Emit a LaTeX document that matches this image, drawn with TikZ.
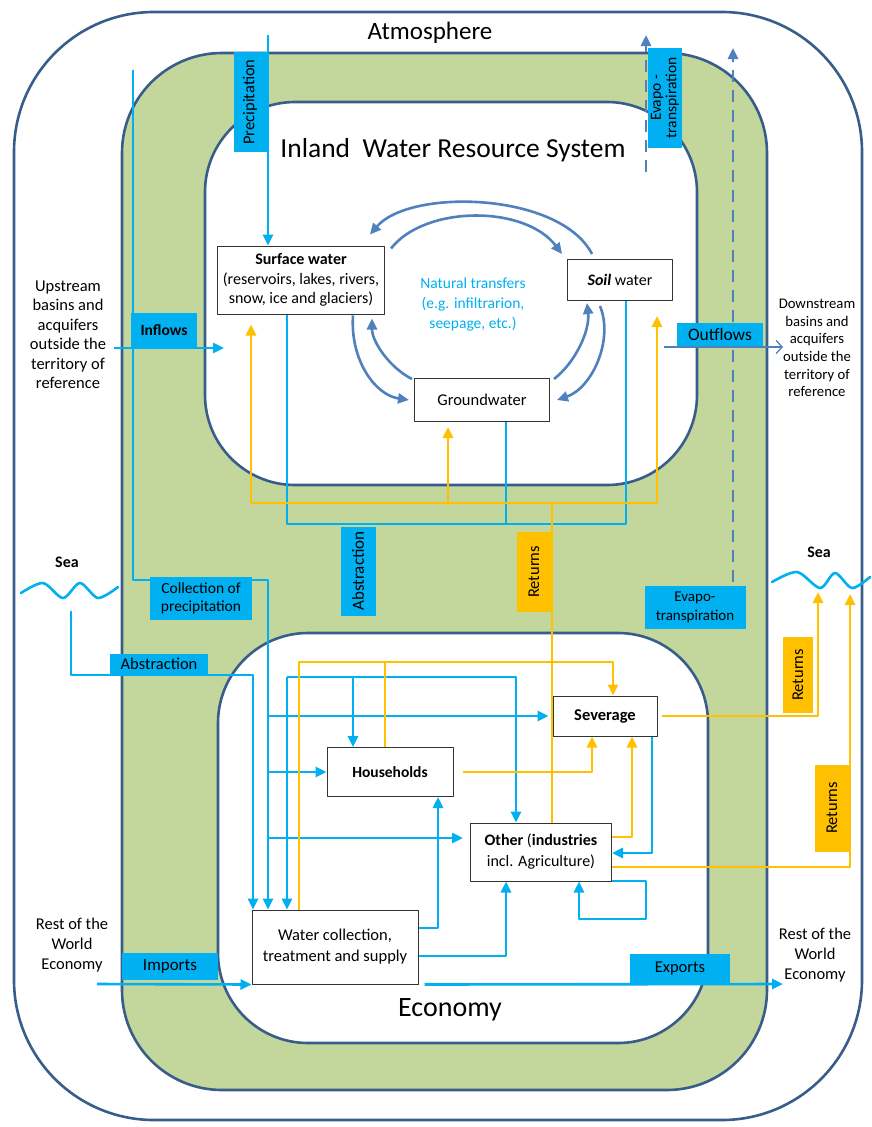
\documentclass[tikz,border=0pt]{standalone}
\usepackage{fontspec}
\setmainfont{Carlito}
\usetikzlibrary{arrows.meta,calc}
\definecolor{frameline}{HTML}{385D8A}
\definecolor{band}{HTML}{C3D69B}
\definecolor{water}{HTML}{00B0F0}
\definecolor{retcol}{HTML}{FFC000}
\definecolor{nature}{HTML}{4F81BD}

\begin{document}
\begin{tikzpicture}[x=1pt,y=-1pt,font=\fontsize{16}{19}\selectfont,>={Triangle[length=11pt,width=10pt]},
    line join=round,
    frame/.style={draw=frameline,line width=2.6pt},
    box/.style={draw=black!80,fill=white,line width=1pt,align=center,inner sep=0pt},
    tag/.style={fill=water,align=center,inner sep=0pt},
    rtag/.style={fill=retcol,align=center,inner sep=0pt,rotate=90},
    wline/.style={draw=water,line width=2.6pt},
    rline/.style={draw=retcol,line width=2.6pt},
    nline/.style={draw=nature,line width=2.6pt,->},
    side/.style={align=center,font=\fontsize{16.5}{19.5}\selectfont}]
  \useasboundingbox (0,0) rectangle (871,1127);
  % the nested systems
  \draw[frame,rounded corners=140pt] (14,12) rectangle (862,1120);
  \draw[frame,fill=band,rounded corners=100pt] (122,53) rectangle (767,1090);
  \draw[frame,fill=white,rounded corners=90pt] (205,102) rectangle (697,485);
  \draw[frame,fill=white,rounded corners=90pt] (218,633) rectangle (708,1043);
  \node at (430,33) {\fontsize{25}{30}\selectfont Atmosphere};
  \node at (453,150) {\fontsize{27.5}{30}\selectfont Inland\ \ Water Resource System};
  \node at (450,1010) {\fontsize{28}{32}\selectfont Economy};

  % stocks and industries
  \node[box,minimum width=167pt,minimum height=68pt,font=\fontsize{16}{19.5}\selectfont] (sw) at (301,280)
    {\textbf{Surface water}\\(reservoirs, lakes, rivers,\\snow, ice and glaciers)};
  \node[box,minimum width=105pt,minimum height=41pt] (soil) at (620,280) {\textbf{\textit{Soil}} water};
  \node[box,minimum width=135pt,minimum height=43pt,font=\fontsize{16.5}{19}\selectfont] (gw) at (482,400) {Groundwater};
  \node[box,minimum width=126pt,minimum height=49pt,font=\fontsize{15.5}{19}\selectfont] (hh) at (390,772) {\textbf{Households}};
  \node[box,minimum width=104pt,minimum height=40pt,font=\fontsize{16.5}{19}\selectfont] (sev) at (605,716) {\textbf{Severage}};
  \node[box,minimum width=141pt,minimum height=58pt,font=\fontsize{16}{21}\selectfont] (oth) at (541,852)
    {\textbf{Other} (\textbf{industries}\\incl. Agriculture)};
  \node[box,minimum width=166pt,minimum height=74pt,font=\fontsize{16.5}{21}\selectfont] (wcs) at (335,947)
    {Water collection,\\treatment and supply};
  \node[text=water,align=center,font=\fontsize{15.5}{20}\selectfont] (nat) at (473,304)
    {Natural transfers\\(e.g. infiltrarion,\\seepage, etc.)};

  % natural transfers
  \draw[nline] ($(soil.north)+(-28,-5)$) .. controls (560,192) and (410,188) .. ($(sw.north east)+(-15,-11)$);
  \draw[nline] ($(sw.north east)+(6,3)$) .. controls (425,205) and (525,205) .. ($(soil.north west)+(-5,-5)$);
  \draw[nline] ($(sw.south east)+(-32,1)$) .. controls (350,360) and (375,395) .. ($(gw.west)+(-5,0)$);
  \draw[nline] ($(gw.north west)+(-2,1)$) .. controls (390,368) and (372,342) .. ($(sw.south east)+(-13,4)$);
  \draw[nline] ($(gw.north east)+(4,1)$) .. controls (576,362) and (590,330) .. ($(soil.south)+(-33,2)$);
  \draw[nline] ($(soil.south)+(-20,5)$) .. controls (614,340) and (592,388) .. ($(gw.east)+(7,0)$);

  % water flows
  \coordinate (pr0) at (268,35);
  \draw[wline,->] (pr0) -- (pr0 |- sw.north);
  \coordinate (cp0) at (133,70);
  \coordinate (cp1) at (268,580);
  \draw[wline,->] (cp0) |- (cp1) -- (cp1 |- wcs.north);
  \coordinate (in0) at (114,348);
  \coordinate (in1) at (224,348);
  \draw[wline,->] (in0) -- (in1);
  \coordinate (ab0) at (287,524);
  \coordinate (ab1) at (626,524);
  \coordinate (ab2) at (506,524);
  \draw[wline] (sw.south -| ab0) -- (ab0) -- (ab1) -- (ab1 |- soil.south);
  \draw[wline] (ab2 |- gw.south) -- (ab2);
  \coordinate (of0) at (664,347);
  \coordinate (of1) at (783,347);
  \draw[draw=nature,line width=1.3pt,-{Straight Barb[length=6pt,width=13pt]}] (of0) -- (of1);
  \coordinate (sa0) at (71,611);
  \coordinate (sa1) at (253,675);
  \draw[wline,->] (sa0) |- (sa1) -- (sa1 |- wcs.north);
  \coordinate (di0) at (287,677);
  \coordinate (di1) at (516,677);
  \coordinate (di2) at (353,677);
  \draw[wline,->] (di0) -- (di0 |- wcs.north);
  \draw[wline,->] (di0) -- (di1) -- (di1 |- oth.north);
  \draw[wline,->] (di2) -- (di2 |- hh.north);
  \coordinate (br0) at (268,838);
  \coordinate (br1) at (463,838);
  \draw[wline,->] (cp1 |- sev.west) -- ($(sev.west)+(-4,0)$);
  \draw[wline,->] (cp1 |- hh.west) -- (hh.west);
  \draw[wline,->] (br0) -- (br1);
  \coordinate (wh) at (438,928);
  \coordinate (wo) at (506,956);
  \draw[wline,->] (wcs.east |- wh) -- (wh) -- (wh |- hh.south);
  \draw[wline,->] (wcs.east |- wo) -- (wo) -- (wo |- oth.south);
  \coordinate (lp0) at (646,881);
  \coordinate (lp1) at (579,919);
  \draw[wline,->] (oth.east |- lp0) -- (lp0) |- (lp1) -- (lp1 |- oth.south);
  \coordinate (so) at (652,853);
  \draw[wline,->] (so |- sev.south) -- (so) -- (oth.east |- so);
  \coordinate (im0) at (97,984);
  \draw[wline,->] (im0) -- (wcs.south west);
  \coordinate (ex1) at (783,984);
  \draw[wline,->] ($(wcs.south east)+(6,0)$) -- (ex1);

  % returns
  \coordinate (rt0) at (251,503);
  \coordinate (rt1) at (657,503);
  \coordinate (rt2) at (448,503);
  \coordinate (rt3) at (552,503);
  \draw[rline] (rt0) -- (rt1);
  \draw[rline,->,shorten >=10pt] (rt0) -- (rt0 |- sw.south);
  \draw[rline,->,shorten >=5pt] (rt2) -- (rt2 |- gw.south);
  \draw[rline,->,shorten >=15pt] (rt1) -- (rt1 |- soil.south);
  \draw[rline] (rt3 |- oth.north) -- (rt3);
  \coordinate (rs0) at (299,662);
  \coordinate (rs1) at (613,662);
  \coordinate (rs2) at (385,662);
  \draw[rline,->] (rs0 |- wcs.north) -- (rs0) -- (rs1) -- (rs1 |- sev.north);
  \draw[rline] (rs2 |- hh.north) -- (rs2);
  \coordinate (hs) at (592,772);
  \draw[rline,->] ($(hh.east)+(9,0)$) -- (hs) -- (hs |- sev.south);
  \coordinate (os) at (632,837);
  \draw[rline,->] (oth.east |- os) -- (os) -- (os |- sev.south);
  \coordinate (se0) at (818,716);
  \coordinate (se1) at (818,592);
  \draw[rline,->] ($(sev.east)+(4,0)$) -- (se0) -- (se1);
  \coordinate (oe0) at (850,867);
  \coordinate (oe1) at (850,594);
  \draw[rline,->] (oth.east |- oe0) -- (oe0) -- (oe1);

  % evapotranspiration
  \coordinate (ev0) at (646,172);
  \coordinate (ev1) at (646,35);
  \coordinate (ev2) at (733,582);
  \coordinate (ev3) at (733,48);
  \draw[nline,dash pattern=on 12pt off 8pt] (ev0) -- (ev1);
  \draw[nline,dash pattern=on 12pt off 8pt] (ev2) -- (ev3);

  % seas
  \node[font=\fontsize{16}{19}\selectfont\bfseries] (sea1) at (67,562) {Sea};
  \node[font=\fontsize{16}{19}\selectfont\bfseries] (sea2) at (819,552) {Sea};
  \draw[wline,line cap=round] plot[smooth] coordinates {(21,593) (43,583) (63,598) (80,583) (98,598) (118,587)};
  \draw[wline,line cap=round] plot[smooth] coordinates {(772,582) (797,572) (820,588) (835,573) (852,588) (870,577)};

  % flow labels
  \node[tag,rotate=90,minimum width=100pt,minimum height=33pt,font=\fontsize{16.5}{19}\selectfont] (prtag) at (250,102) {Precipitation};
  \node[tag,rotate=90,minimum width=100pt,minimum height=34pt,font=\fontsize{15.5}{15.5}\selectfont] (evtag) at (665,98) {Evapo -\\transpiration};
  \node[tag,minimum width=66pt,minimum height=34pt,font=\fontsize{15.5}{19}\selectfont] (intag) at (164,330) {\textbf{Inflows}};
  \node[tag,minimum width=86pt,minimum height=23pt,font=\fontsize{17.5}{19}\selectfont] (oftag) at (720,334) {Outflows};
  \node[tag,rotate=90,minimum width=89pt,minimum height=35pt,font=\fontsize{17}{19}\selectfont] (abtag) at (358,571) {Abstraction};
  \node[rtag,minimum width=80pt,minimum height=34pt,font=\fontsize{16.5}{19}\selectfont] (rttag) at (534,572) {Returns};
  \node[tag,minimum width=102pt,minimum height=43pt,font=\fontsize{15.5}{18}\selectfont] (cptag) at (201,598) {Collection of\\precipitation};
  \node[tag,minimum width=98pt,minimum height=20pt,font=\fontsize{16.5}{19}\selectfont] (satag) at (159,664) {Abstraction};
  \node[tag,minimum width=101pt,minimum height=43pt,font=\fontsize{15}{19}\selectfont] (evtag2) at (695,607) {Evapo-\\transpiration};
  \node[rtag,minimum width=76pt,minimum height=30pt,font=\fontsize{16.5}{19}\selectfont] (setag) at (798,675) {Returns};
  \node[rtag,minimum width=87pt,minimum height=35pt,font=\fontsize{16.5}{19}\selectfont] (oetag) at (832,808) {Returns};
  \node[tag,minimum width=96pt,minimum height=27pt,font=\fontsize{17}{19}\selectfont] (imtag) at (170,966) {Imports};
  \node[tag,minimum width=100pt,minimum height=30pt,font=\fontsize{16.5}{19}\selectfont] (extag) at (680,969) {Exports};

  % outside the territory
  \node[side] (up) at (68,335) {Upstream\\basins and\\acquifers\\outside the\\territory of\\reference};
  \node[side,font=\fontsize{14.7}{17.6}\selectfont] (down) at (817,348) {Downstream\\basins and\\acquifers\\outside the\\territory of\\reference};
  \node[side,font=\fontsize{16.5}{20}\selectfont] (rwl) at (72,945) {Rest of the\\World\\Economy};
  \node[side,font=\fontsize{16.5}{20}\selectfont] (rwr) at (815,955) {Rest of the\\World\\Economy};
\end{tikzpicture}
\end{document}
